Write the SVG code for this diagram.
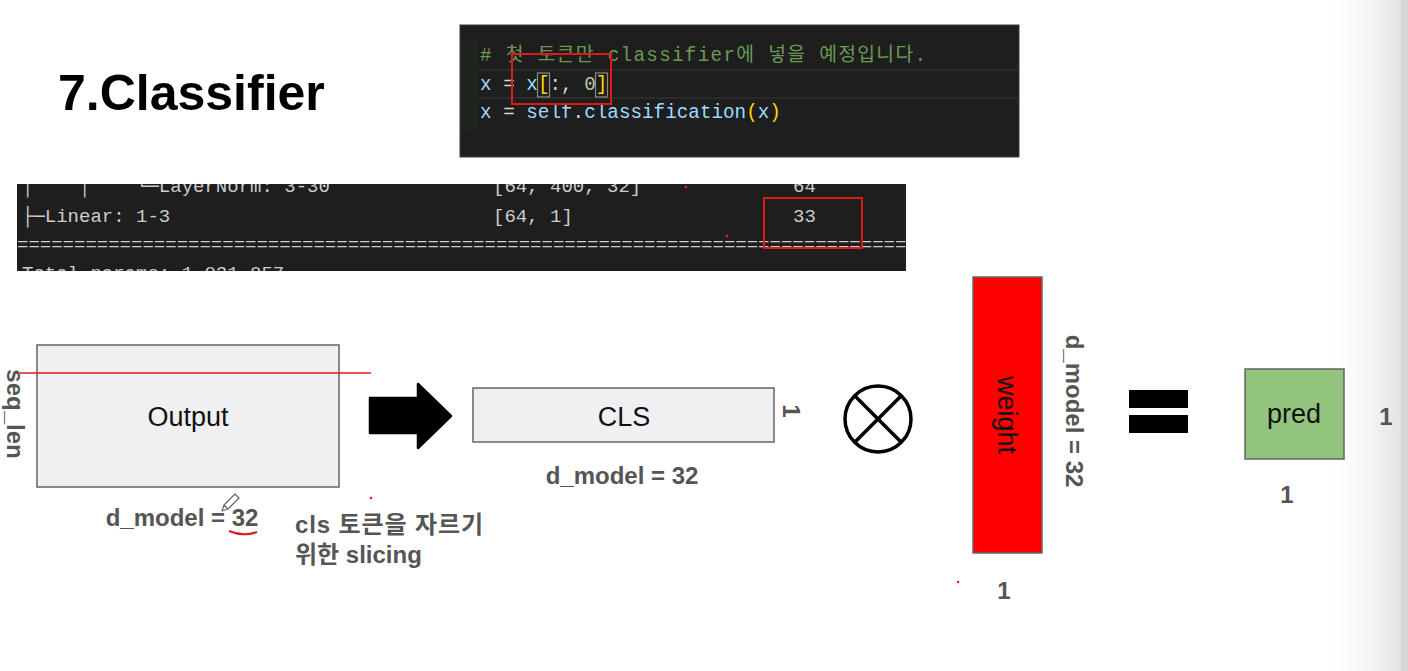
<svg xmlns="http://www.w3.org/2000/svg" width="1408" height="671" viewBox="0 0 1408 671">
  <defs>
    <style>
      .title { font-family: "Liberation Sans", Arial, sans-serif; font-weight: bold; font-size: 50px; fill: #000; }
      .code { font-family: "Liberation Mono", "Noto Sans CJK KR", monospace; font-size: 19.3px; white-space: pre; }
      .term { font-family: "Liberation Mono", "Noto Sans CJK KR", monospace; font-size: 19px; fill: #cccccc; white-space: pre; }
      .box { stroke: #666; stroke-width: 1.5; }
      .lbl { font-family: "Liberation Sans", Arial, sans-serif; font-size: 27px; fill: #111; text-anchor: middle; }
      .dim { font-family: "Liberation Sans", "Noto Sans CJK KR", Arial, sans-serif; font-weight: bold; font-size: 24px; fill: #555; }
      .note { font-family: "Liberation Sans", "Noto Sans CJK KR", Arial, sans-serif; font-weight: bold; font-size: 24px; fill: #555; }
      .mark { fill: none; stroke: #e01818; stroke-width: 2; }
      .dot { fill: #ff1a1a; }
    </style>
    <linearGradient id="edgeShade" x1="0" y1="0" x2="1" y2="0">
      <stop offset="0" stop-color="#ffffff" stop-opacity="0"/>
      <stop offset="1" stop-color="#e2e2e2"/>
    </linearGradient>
    <clipPath id="termClip">
      <rect x="17" y="184" width="889" height="87"/>
    </clipPath>
  </defs>

  <rect x="0" y="0" width="1408" height="671" fill="#ffffff"/>
  <rect x="1320" y="0" width="81" height="671" fill="url(#edgeShade)"/>
  <rect x="1401" y="0" width="7" height="671" fill="#d6d6d6"/>

  <!-- heading -->
  <g id="title">
    <text class="title" x="58" y="110">7.Classifier</text>
  </g>

  <!-- editor snippet -->
  <g id="code-snippet">
    <rect x="460" y="25" width="559" height="132" fill="#1e1e1e" stroke="#3c3c3c" stroke-width="1"/>
    <rect x="461" y="40" width="17" height="90" fill="#20241f"/>
    <line x1="478" y1="70" x2="1018" y2="70" stroke="#303030" stroke-width="1.5"/>
    <line x1="478" y1="98" x2="1018" y2="98" stroke="#303030" stroke-width="1.5"/>
    <text class="code" x="480" y="61" fill="#6a9955" textLength="446" lengthAdjust="spacing"># 첫 토큰만 classifier에 넣을 예정입니다.</text>
    <rect x="537.5" y="73" width="12" height="24" fill="none" stroke="#8a8a8a" stroke-width="1.2"/>
    <rect x="595.5" y="73" width="12" height="24" fill="none" stroke="#8a8a8a" stroke-width="1.2"/>
    <text class="code" x="480" y="90"><tspan fill="#9cdcfe">x</tspan><tspan fill="#d4d4d4"> = </tspan><tspan fill="#9cdcfe">x</tspan><tspan fill="#ffd700">[</tspan><tspan fill="#d4d4d4">:, </tspan><tspan fill="#b5cea8">0</tspan><tspan fill="#ffd700">]</tspan></text>
    <text class="code" x="480" y="118"><tspan fill="#9cdcfe">x</tspan><tspan fill="#d4d4d4"> = </tspan><tspan fill="#9cdcfe">self</tspan><tspan fill="#d4d4d4">.</tspan><tspan fill="#9cdcfe">classification</tspan><tspan fill="#ffd700">(</tspan><tspan fill="#9cdcfe">x</tspan><tspan fill="#ffd700">)</tspan></text>
    <rect class="mark" x="512" y="54" width="99" height="50"/>
  </g>

  <!-- model summary excerpt -->
  <g id="summary">
    <rect x="17" y="184" width="889" height="87" fill="#1e1e1e"/>
    <g clip-path="url(#termClip)">
      <text class="term" x="22" y="192">│    │    └─LayerNorm: 3-30</text>
      <text class="term" x="493" y="192">[64, 400, 32]</text>
      <text class="term" x="793" y="192">64</text>
      <text class="term" x="22" y="222">├─Linear: 1-3</text>
      <text class="term" x="493" y="222">[64, 1]</text>
      <text class="term" x="793" y="222">33</text>
      <text class="term" x="17" y="250">================================================================================</text>
      <text class="term" x="22" y="279">Total params: 1,021,857</text>
    </g>
    <rect class="mark" x="764" y="198" width="98" height="50"/>
    <circle class="dot" cx="686" cy="187" r="1.3"/>
    <circle class="dot" cx="727" cy="236" r="1.3"/>
  </g>

  <!-- encoder output tensor -->
  <g id="output">
    <rect class="box" x="37" y="345" width="302" height="142" fill="#f0eff2"/>
    <text class="lbl" x="188" y="426">Output</text>
    <line x1="20" y1="373" x2="371" y2="373" stroke="#e01818" stroke-width="1.3"/>
    <text class="dim" transform="translate(16 414) rotate(90)" text-anchor="middle" dy="0.36em" font-size="23.5">seq_len</text>
    <text class="dim" x="182" y="526" text-anchor="middle">d_model = 32</text>
    <path d="M229 531 Q243 537 257 532" class="mark"/>
    <path d="M222 511 L224 505 L235 494 L239 498 L228 509 Z M224 505 L228 509" fill="#fff" stroke="#666" stroke-width="1.2" stroke-linejoin="round"/>
    <text class="note" x="295" y="533" textLength="188" lengthAdjust="spacing">cls 토큰을 자르기</text>
    <text class="note" x="295" y="563">위한 slicing</text>
    <circle class="dot" cx="371" cy="498" r="1.3"/>
  </g>

  <!-- sliced CLS vector -->
  <g id="cls">
    <rect class="box" x="473" y="388" width="301" height="54" fill="#f0eff2"/>
    <text class="lbl" x="624" y="426">CLS</text>
    <text class="dim" transform="translate(792 411) rotate(90)" text-anchor="middle" dy="0.36em" font-size="22">1</text>
    <text class="dim" x="622" y="484" text-anchor="middle">d_model = 32</text>
  </g>

  <!-- multiplication operator -->
  <g id="times">
    <circle cx="878" cy="419" r="33" fill="none" stroke="#000" stroke-width="3.5"/>
    <line x1="855" y1="396" x2="901" y2="442" stroke="#000" stroke-width="3.5"/>
    <line x1="901" y1="396" x2="855" y2="442" stroke="#000" stroke-width="3.5"/>
  </g>

  <!-- linear layer weight -->
  <g id="weight">
    <rect class="box" x="973" y="277" width="69" height="276" fill="#ff0000"/>
    <text class="lbl" transform="translate(1007 415) rotate(90)" dy="0.35em">weight</text>
    <text class="dim" transform="translate(1075 411) rotate(90)" text-anchor="middle" dy="0.36em">d_model = 32</text>
    <text class="dim" x="1004" y="599" text-anchor="middle">1</text>
    <circle class="dot" cx="958" cy="582" r="1.3"/>
  </g>

  <!-- equals operator -->
  <g id="equals">
    <rect x="1129" y="390" width="59" height="18" fill="#000"/>
    <rect x="1129" y="415" width="59" height="18" fill="#000"/>
  </g>

  <!-- prediction -->
  <g id="pred">
    <rect class="box" x="1245" y="369" width="99" height="90" fill="#93c47d"/>
    <text class="lbl" x="1294" y="423">pred</text>
    <text class="dim" x="1386" y="425" text-anchor="middle">1</text>
    <text class="dim" x="1287" y="503" text-anchor="middle">1</text>
  </g>

  <!-- flow arrow -->
  <g id="connectors">
    <path d="M370 398 L418 398 L418 384 L451 416 L418 448 L418 433 L370 433 Z" fill="#000" stroke="#000" stroke-width="2.5" stroke-linejoin="round"/>
  </g>
</svg>
